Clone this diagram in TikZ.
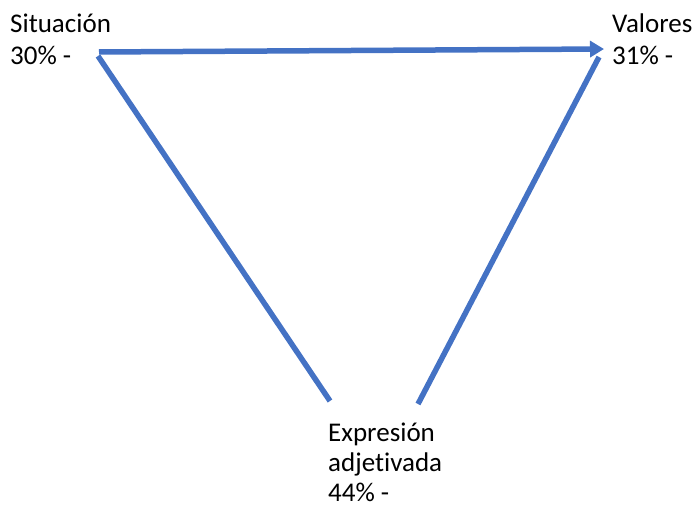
\documentclass[tikz,border=0pt]{standalone}
\usepackage{fontspec}
\setmainfont[Ligatures=NoCommon]{Carlito}
\usetikzlibrary{arrows.meta}
\definecolor{lineblue}{RGB}{68,114,196}
\tikzset{
  lbl/.style={anchor=base west, inner sep=0pt, align=left, font=\fontsize{27}{32}\selectfont},
  conn/.style={draw=lineblue, line width=5.5pt},
}
\begin{document}
\begin{tikzpicture}[x=1pt,y=-1pt]
\useasboundingbox (0,0) rectangle (694,508);
\node[lbl] (sit) at (10,65) {Situación\\30\% -};
\node[lbl] (val) at (612,65) {Valores\\31\% -};
\node[lbl, font=\fontsize{27}{30}\selectfont] (exp) at (328,501) {Expresión\\adjetivada\\44\% -};
\coordinate (a) at (99,52);
\coordinate (a2) at (98,56);
\coordinate (b) at (604,49);
\coordinate (c) at (330,401);
\coordinate (d) at (418,404);
\coordinate (e) at (599,57);
\draw[conn, -{Triangle[length=14pt,width=16pt]}] (a) -- (b);
\draw[conn] (a2) -- (c);
\draw[conn] (d) -- (e);
\end{tikzpicture}
\end{document}
